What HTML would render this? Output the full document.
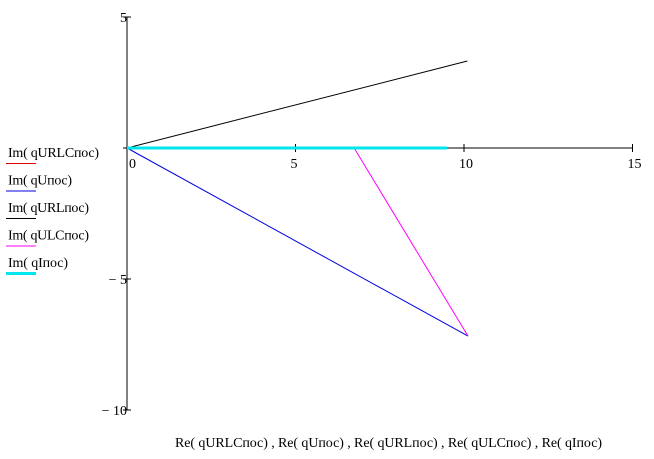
<!DOCTYPE html>
<html><head><meta charset="utf-8"><style>
body{margin:0;background:#fff;}
svg text{font-family:"Liberation Serif",serif;font-size:14px;fill:#000;}
</style></head><body>
<svg width="654" height="454">
<g id="axes"></g>
<g id="marks"></g>
<g id="legend"></g>
<text x="175" y="447" textLength="427">Re( qURLCпос) , Re( qUпос) , Re( qURLпос) , Re( qULCпос) , Re( qIпос)</text>
</svg>
<script>
const xTicks=[0,5,10,15];
const yTicks=[5,0,-5,-10];
const seriesNames=["Im( qURLCпос)","Im( qUпос)","Im( qURLпос)","Im( qULCпос)","Im( qIпос)"];
const legendWidths=[91,64,81,81,60];
const seriesColors=["#e00000","#0000e0","#000000","#ff00ff","#00e5ee"];
const seriesWidths=[1,1,1,1,3];
const seriesX=[[0,9.5],[0,10.12],[0,10.1],[6.74,10.12],[0,9.5]];
const seriesY=[[0,0],[0,-7.18],[0,3.32],[0,-7.18],[0,0]];
const NS="http://www.w3.org/2000/svg";
const X=v=>127+v*33.7, Y=v=>148-v*26.2;
function mk(t,a,p){const e=document.createElementNS(NS,t);for(const k in a)e.setAttribute(k,a[k]);p.appendChild(e);return e;}
const ax=document.getElementById('axes');
let l=mk('line',{x1:X(0),y1:Y(0),x2:X(15),y2:Y(0),stroke:'#000'},ax);


l=mk('line',{x1:X(0),y1:Y(5),x2:X(0),y2:Y(-10),stroke:'#000'},ax);


xTicks.forEach(v=>{
 mk('line',{x1:X(v),y1:144,x2:X(v),y2:152,stroke:'#000'},ax);
 const t=mk('text',{x:X(v)+(v==0?2:-5),y:168},ax);t.textContent=v;
 
 
});
yTicks.forEach(v=>{
 mk('line',{x1:123,y1:Y(v),x2:131,y2:Y(v),stroke:'#000'},ax);
 if(v===0)return;
 const t=mk('text',{x:127,y:Y(v)+5,'text-anchor':'end'},ax);t.textContent=v<0?'\u2212 '+(-v):v;
 
 
});
const mg=document.getElementById('marks'), lg=document.getElementById('legend');
seriesNames.forEach((n,i)=>{
 const pts=seriesX[i].map((x,j)=>X(x)+','+Y(seriesY[i][j])).join(' ');
 const p=mk('polyline',{points:pts,fill:'none',stroke:seriesColors[i],'stroke-width':seriesWidths[i]},mg);
 
 
 const yy=157+i*27.5;
 const t=mk('text',{x:8,y:yy,textLength:legendWidths[i]},lg);t.textContent=n;
 
 
 mk('line',{x1:6,y1:yy+6.5,x2:36,y2:yy+6.5,stroke:seriesColors[i],'stroke-width':seriesWidths[i]},lg);
});
</script>
</body></html>
